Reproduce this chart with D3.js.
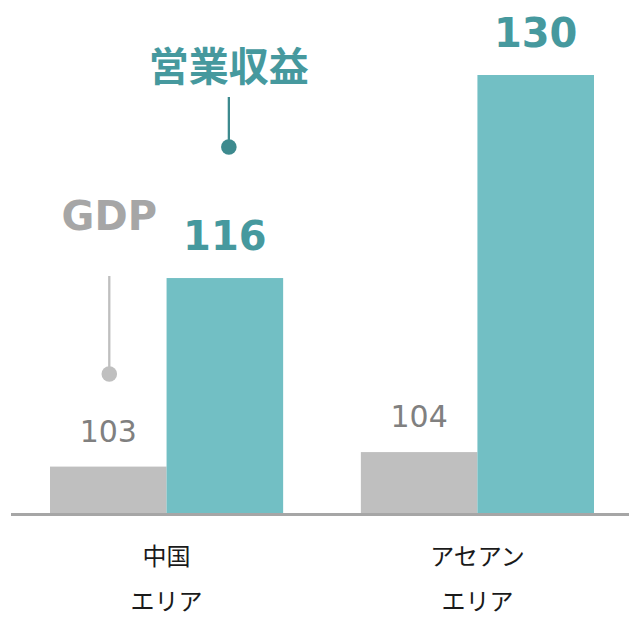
<!DOCTYPE html>
<html lang="ja">
<head>
<meta charset="utf-8">
<script src="https://cdn.jsdelivr.net/npm/d3@7"></script>
<style>
  html, body { margin: 0; padding: 0; background: #fff; }
  svg { display: block; }
</style>
</head>
<body>
<svg id="chart" width="629" height="618"></svg>
<script>
// Regions (two-line labels) and the two indexed series
const regions = ["中国エリア", "アセアンエリア"];
const regionLines = [["中国", "エリア"], ["アセアン", "エリア"]];
const seriesKeys = ["GDP", "営業収益"];
const gdpValues = [103, 104];
const revenueValues = [116, 130];

const W = 629, H = 618;
const baseY = 513;
const fontJP = "'Noto Sans CJK JP', 'Noto Sans', sans-serif";
const fontNum = "'DejaVu Sans', Verdana, sans-serif";

const colors = {
  GDP: "#bfbfbf",
  営業収益: "#72bfc4"
};

const svg = d3.select("#chart");

// Outer band per region, inner band per series
const x0 = d3.scaleBand().domain(regions).range([50, 594]).paddingInner(0.25).paddingOuter(0);
const x1 = d3.scaleBand().domain(seriesKeys).range([0, x0.bandwidth()]).padding(0);
const y = d3.scaleLinear().domain([99.8, 130]).range([baseY, 75]);

const rows = regions.map((r, i) => ({
  region: r,
  lines: regionLines[i],
  values: [
    { key: "GDP", value: gdpValues[i] },
    { key: "営業収益", value: revenueValues[i] }
  ]
}));

const groups = svg.append("g").selectAll("g")
  .data(rows)
  .join("g")
  .attr("transform", d => `translate(${x0(d.region)},0)`);

groups.selectAll("rect")
  .data(d => d.values)
  .join("rect")
  .attr("x", d => x1(d.key))
  .attr("width", x1.bandwidth())
  .attr("y", d => y(d.value))
  .attr("height", d => baseY - y(d.value))
  .attr("fill", d => colors[d.key]);

// Value labels above each bar
groups.selectAll("text.val")
  .data(d => d.values)
  .join("text")
  .attr("class", "val")
  .attr("x", d => x1(d.key) + x1.bandwidth() / 2)
  .attr("y", d => y(d.value) - (d.key === "GDP" ? 25 : 28))
  .attr("text-anchor", "middle")
  .style("font-family", fontNum)
  .style("font-size", d => d.key === "GDP" ? "30px" : "40px")
  .style("font-weight", d => d.key === "GDP" ? "normal" : "bold")
  .attr("fill", d => d.key === "GDP" ? "#808080" : "#46999e")
  .text(d => d.value);

// Baseline
svg.append("line")
  .attr("x1", 11).attr("x2", W)
  .attr("y1", baseY + 1.5).attr("y2", baseY + 1.5)
  .attr("stroke", "#a6a6a6")
  .attr("stroke-width", 3);

// Category labels under each group
groups.each(function (d) {
  const cx = x0.bandwidth() / 2;
  const t = d3.select(this).append("text")
    .attr("text-anchor", "middle")
    .style("font-family", fontJP)
    .style("font-size", "24px")
    .attr("fill", "#1a1a1a");
  d.lines.forEach((ln, j) => {
    t.append("tspan").attr("x", cx).attr("y", 565 + j * 45).text(ln);
  });
});

// Series call-outs on the first region
const first = x0(regions[0]);
const gdpCx = first + x1("GDP") + x1.bandwidth() / 2 + 1;
const revCx = first + x1("営業収益") + x1.bandwidth() / 2 + 4;

const callouts = [
  { label: "GDP", cx: gdpCx, textY: 230, lineTop: 276, dotY: 374,
    text: "#a6a6a6", line: "#bfbfbf", size: "40px", font: fontNum },
  { label: "営業収益", cx: revCx, textY: 81, lineTop: 97, dotY: 147,
    text: "#46999e", line: "#3d8a8e", size: "40px", font: fontJP }
];

const co = svg.append("g").selectAll("g").data(callouts).join("g");
co.append("text")
  .attr("x", d => d.cx)
  .attr("y", d => d.textY)
  .attr("text-anchor", "middle")
  .style("font-family", d => d.font)
  .style("font-size", d => d.size)
  .style("font-weight", "bold")
  .attr("fill", d => d.text)
  .text(d => d.label);
co.append("line")
  .attr("x1", d => d.cx).attr("x2", d => d.cx)
  .attr("y1", d => d.lineTop).attr("y2", d => d.dotY)
  .attr("stroke", d => d.line)
  .attr("stroke-width", 2.3);
co.append("circle")
  .attr("cx", d => d.cx)
  .attr("cy", d => d.dotY)
  .attr("r", 7.8)
  .attr("fill", d => d.line);
</script>
</body>
</html>
